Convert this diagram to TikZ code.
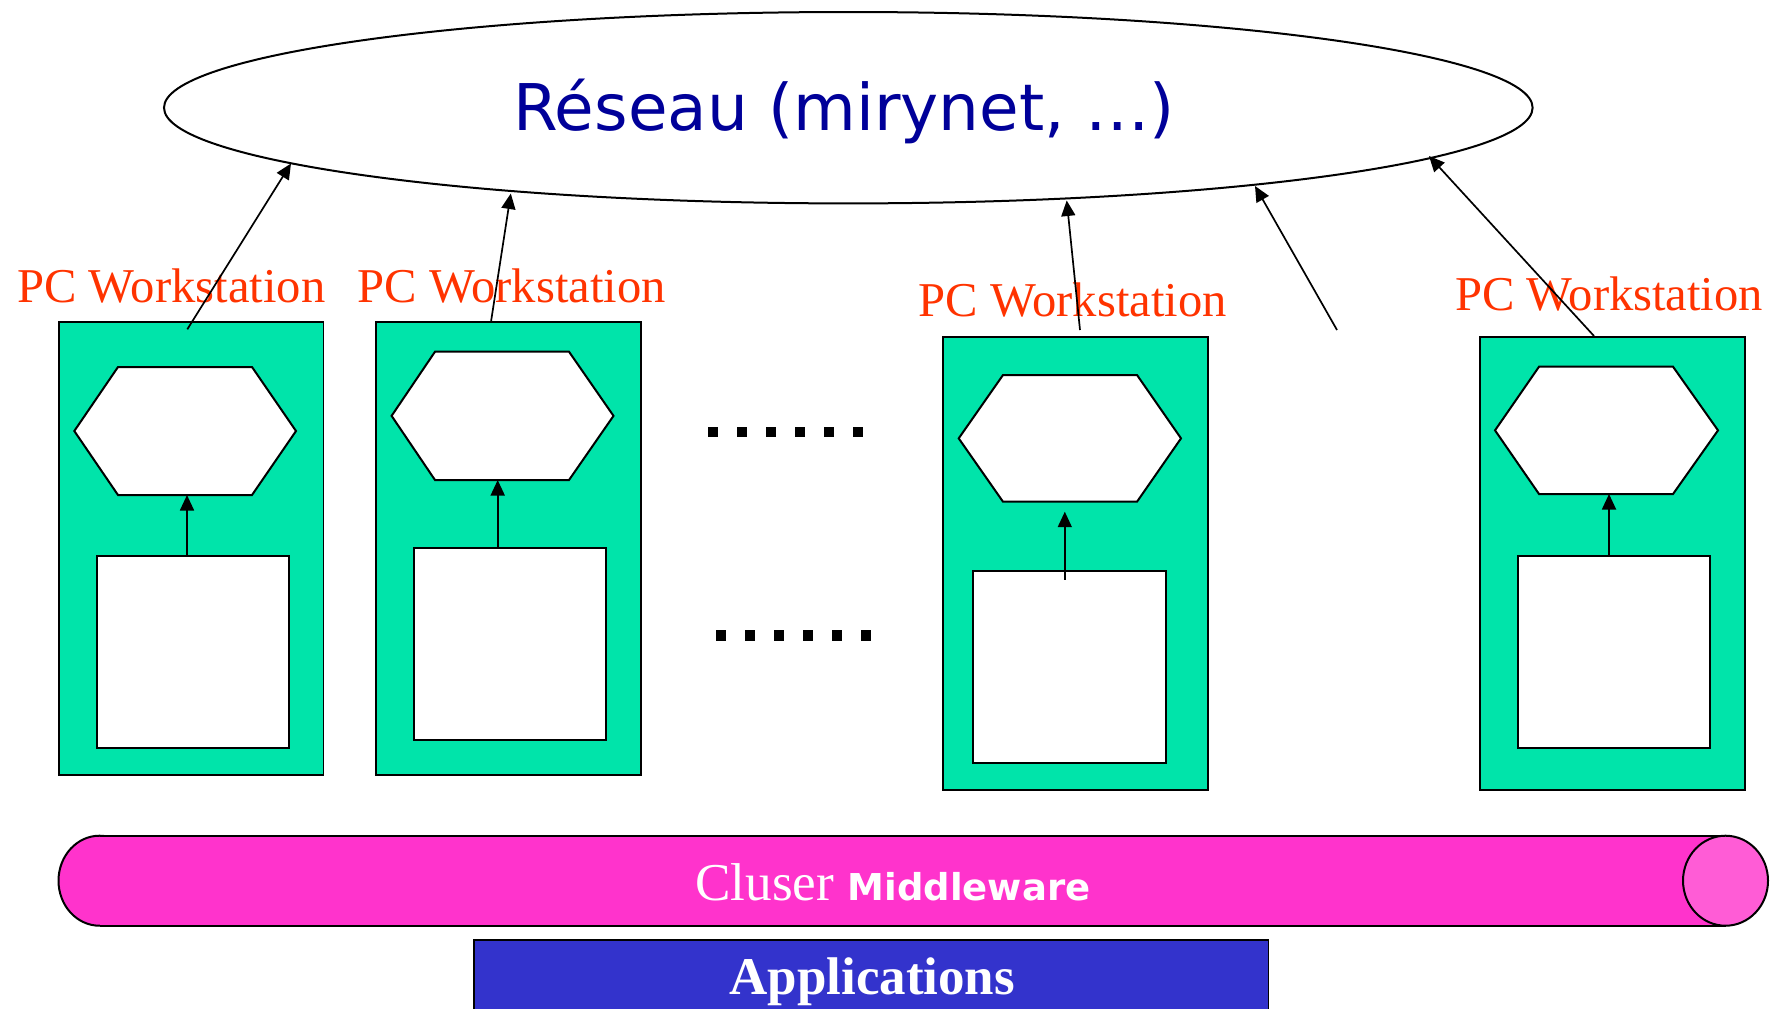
\documentclass[tikz,border=0pt]{standalone}
\usepackage{fontspec}
\setmainfont{Liberation Serif}
\newfontfamily\vsans{DejaVu Sans}
\usetikzlibrary{arrows.meta,fit,shapes.geometric}
\definecolor{wsgreen}{HTML}{00E4AA}
\definecolor{wsred}{HTML}{FF3300}
\definecolor{netblue}{HTML}{000099}
\definecolor{mwpink}{HTML}{FF33CC}
\definecolor{mwcap}{HTML}{FF5CD6}
\definecolor{appblue}{HTML}{3333CC}

\begin{document}
\begin{tikzpicture}[x=0.5pt,y=-0.5pt,
  ws/.style={draw=black,line width=0.8pt,fill=wsgreen,inner sep=0,outer sep=0},
  proc/.style={draw=black,line width=1pt,fill=white,inner sep=0,outer sep=0},
  hexa/.style={draw=black,line width=1pt,fill=white,line join=miter},
  lbl/.style={text=wsred,font=\fontsize{24.3}{28}\selectfont,anchor=base west,inner sep=0},
  arr/.style={-{Triangle[length=7.75pt,width=7pt]},line width=0.85pt},
  dotmark/.style={fill=black}]
\useasboundingbox (0,0) rectangle (1780,1008);
\clip (0,0) rectangle (1780,1008);

% the interconnect
\node[draw,line width=1pt,ellipse,minimum width=684.3pt,minimum height=95.7pt,
      inner sep=0,outer sep=0] (net) at (848.3,107.7) {};
\node[anchor=base,inner sep=0,text=netblue,font=\vsans\fontsize{32.2}{36}\selectfont]
      (netname) at (844,130) {Réseau (mirynet, …)};

% workstation cabinets
\node[ws,fit={(59,322)(323.5,775)}] (ws1) {};
\node[ws,fit={(376,322)(641,775)}] (ws2) {};
\node[ws,fit={(943,336.7)(1208,790)}] (ws3) {};
\node[ws,fit={(1480,337)(1745,790)}] (ws4) {};

% processor hexagons
\draw[hexa] (74.3,431) -- (118,367) -- (252,367) -- (296,431) -- (252,495) -- (118,495) -- cycle;
\draw[hexa] (391.6,415.85) -- (435,351.7) -- (569,351.7) -- (613.5,415.85) -- (569,480) -- (435,480) -- cycle;
\draw[hexa] (958.7,438.35) -- (1003,375) -- (1137,375) -- (1181,438.35) -- (1137,501.7) -- (1003,501.7) -- cycle;
\draw[hexa] (1495,430.35) -- (1539,366.7) -- (1673,366.7) -- (1718,430.35) -- (1673,494) -- (1539,494) -- cycle;
\coordinate (h1) at (187,495);
\coordinate (h2) at (497.7,480);
\coordinate (h3) at (1064.8,511.7);
\coordinate (h4) at (1609,494);

% memory blocks
\node[proc,fit={(96.5,555.7)(289,748)}] (m1) {};
\node[proc,fit={(413.7,548)(606,740)}] (m2) {};
\node[proc,fit={(973.4,570.7)(1166,763)}] (m3) {};
\node[proc,fit={(1517.7,555.7)(1710,748)}] (m4) {};
\coordinate (m3in) at (1064.8,579.7);

\draw[arr] (m1.north -| h1) -- (h1);
\draw[arr] (m2.north -| h2) -- (h2);
\draw[arr] (m3in) -- (h3);
\draw[arr] (m4.north -| h4) -- (h4);

% labels
\node[lbl] (lab1) at (17,302) {PC Workstation};
\node[lbl] (lab2) at (357.5,302) {PC Workstation};
\node[lbl] (lab3) at (918.4,316.7) {PC Workstation};
\node[lbl] (lab4) at (1454.7,310) {PC Workstation};

% ellipsis marks
\foreach \i in {0,...,5} {
  \fill[dotmark] (707.7+29*\i,426.7) rectangle ++(10,10);
  \fill[dotmark] (716.2+29*\i,630) rectangle ++(10,10.7);
}

% links to the interconnect
\coordinate (t1) at (187.3,329.3);
\coordinate (t2) at (491,321.7);
\coordinate (t3) at (1080,330);
\coordinate (t4) at (1337,330);
\coordinate (t5) at (1594,336);
\coordinate (n1) at (291,163.5);
\coordinate (n2) at (510.8,193.5);
\coordinate (n3) at (1066.7,200.5);
\coordinate (n4) at (1255,186);
\coordinate (n5) at (1429,156);
\draw[arr] (t1) -- (n1);
\draw[arr] (t2) -- (n2);
\draw[arr] (t3) -- (n3);
\draw[arr] (t4) -- (n4);
\draw[arr] (t5) -- (n5);

% middleware tube
\filldraw[fill=mwpink,line width=1pt] (99.5,880.7) ellipse [x radius=41,y radius=45];
\fill[mwpink] (99.5,835.7) rectangle (1725.5,925.7);
\draw[line width=1pt] (99.5,835.7) -- (1725.5,835.7) (99.5,925.7) -- (1725.5,925.7);
\filldraw[fill=mwcap,line width=1pt] (1725.5,880.7) ellipse [x radius=42.5,y radius=45];
\node[anchor=base west,inner sep=0,text=white,font=\fontsize{26.6}{30}\selectfont]
      (mwname) at (695,900) {Cluser {\vsans\bfseries\fontsize{18.5}{22}\selectfont Middleware}};

% applications layer
\node[fill=appblue,draw=black,line width=0.8pt,inner sep=0,outer sep=0,
      fit={(474,939.7)(1268.5,1030)}] (apps) {};
\node[anchor=base west,inner sep=0,text=white,font=\bfseries\fontsize{26.5}{30}\selectfont]
      (appname) at (729,994) {Applications};
\end{tikzpicture}
\end{document}
